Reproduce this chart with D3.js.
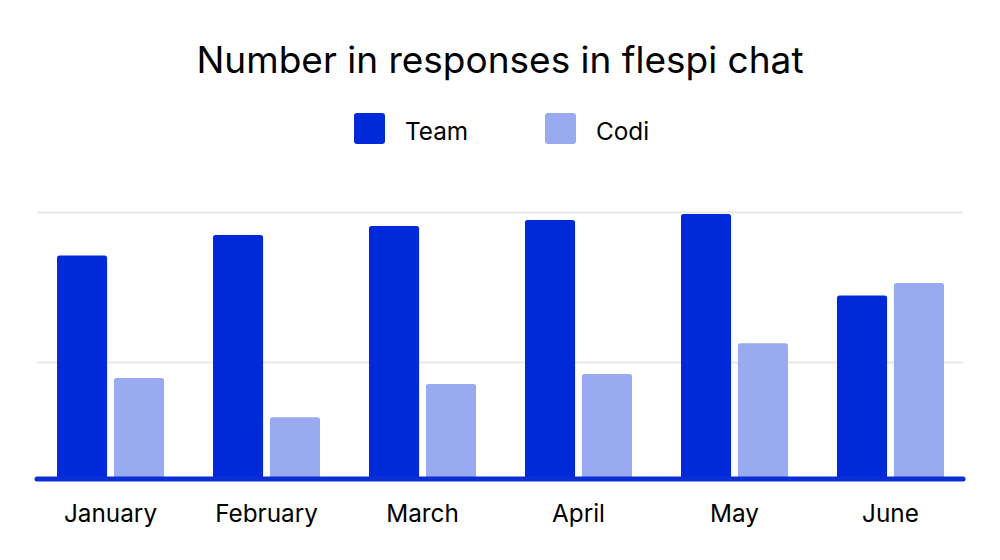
<!DOCTYPE html>
<html>
<head>
<meta charset="utf-8">
<script src="https://cdn.jsdelivr.net/npm/d3@7"></script>
<style>
  html, body { margin: 0; padding: 0; background: #fff; }
  svg { display: block; font-family: Inter, "Noto Sans", sans-serif; }
</style>
</head>
<body>
<svg id="chart" width="1000" height="560"></svg>
<script>
const months = ["January", "February", "March", "April", "May", "June"];
const seriesNames = ["Team", "Codi"];
const teamValues = [2235, 2440, 2530, 2590, 2650, 1835];
const codiValues = [1010, 617, 950, 1050, 1357, 1960];
const gridValues = [1165, 2665];
const colors = ["#002ad9", "#99aaf0"];

const svg = d3.select("#chart");

const x0 = d3.scaleBand().domain(months).range([57, 944]).paddingInner(0.314).paddingOuter(0);
const x1 = d3.scaleBand().domain(seriesNames).range([0, x0.bandwidth()]).paddingInner(0.12).paddingOuter(0);
const y = d3.scaleLinear().domain([0, 3000]).range([479, 179]);
const color = d3.scaleOrdinal().domain(seriesNames).range(colors);

// Title
svg.append("text")
  .attr("x", 500).attr("y", 73)
  .attr("text-anchor", "middle")
  .attr("font-size", 37)
  .attr("fill", "#000")
  .text("Number in responses in flespi chat");

// Legend
const legendX = { Team: 354, Codi: 545 };
const leg = svg.append("g");
seriesNames.forEach(s => {
  leg.append("rect")
    .attr("x", legendX[s]).attr("y", 113)
    .attr("width", 31).attr("height", 31)
    .attr("rx", 3)
    .attr("fill", color(s));
  leg.append("text")
    .attr("x", legendX[s] + 51).attr("y", 139.5)
    .attr("font-size", 24.3)
    .attr("fill", "#000")
    .text(s);
});

// Gridlines
svg.append("g").selectAll("line").data(gridValues).join("line")
  .attr("x1", 37).attr("x2", 963)
  .attr("y1", d => y(d)).attr("y2", d => y(d))
  .attr("stroke", "#e8e8e8").attr("stroke-width", 2.2);

// Bars
const data = months.map((m, i) => ({ month: m, values: [
  { key: "Team", value: teamValues[i] },
  { key: "Codi", value: codiValues[i] }
]}));

function topRounded(xp, yp, w, h, r) {
  return `M${xp},${yp + h}V${yp + r}Q${xp},${yp} ${xp + r},${yp}H${xp + w - r}Q${xp + w},${yp} ${xp + w},${yp + r}V${yp + h}Z`;
}

svg.append("g").selectAll("g").data(data).join("g")
  .attr("transform", d => `translate(${x0(d.month)},0)`)
  .selectAll("path").data(d => d.values).join("path")
  .attr("d", d => topRounded(x1(d.key), y(d.value), x1.bandwidth(), y(0) - y(d.value), 2.5))
  .attr("fill", d => color(d.key));

// Baseline axis
svg.append("line")
  .attr("x1", 37).attr("x2", 963)
  .attr("y1", y(0)).attr("y2", y(0))
  .attr("stroke", "#0a2fd6").attr("stroke-width", 5)
  .attr("stroke-linecap", "round");

// X axis labels
const xAxis = d3.axisBottom(x0).tickSize(0).tickPadding(0);
const ax = svg.append("g").attr("transform", `translate(0,${y(0)})`).call(xAxis);
ax.select(".domain").remove();
ax.selectAll("text")
  .attr("font-family", "Inter, 'Noto Sans', sans-serif")
  .attr("font-size", 24.3)
  .attr("fill", "#000")
  .attr("dy", 0)
  .attr("y", 43);
</script>
</body>
</html>
